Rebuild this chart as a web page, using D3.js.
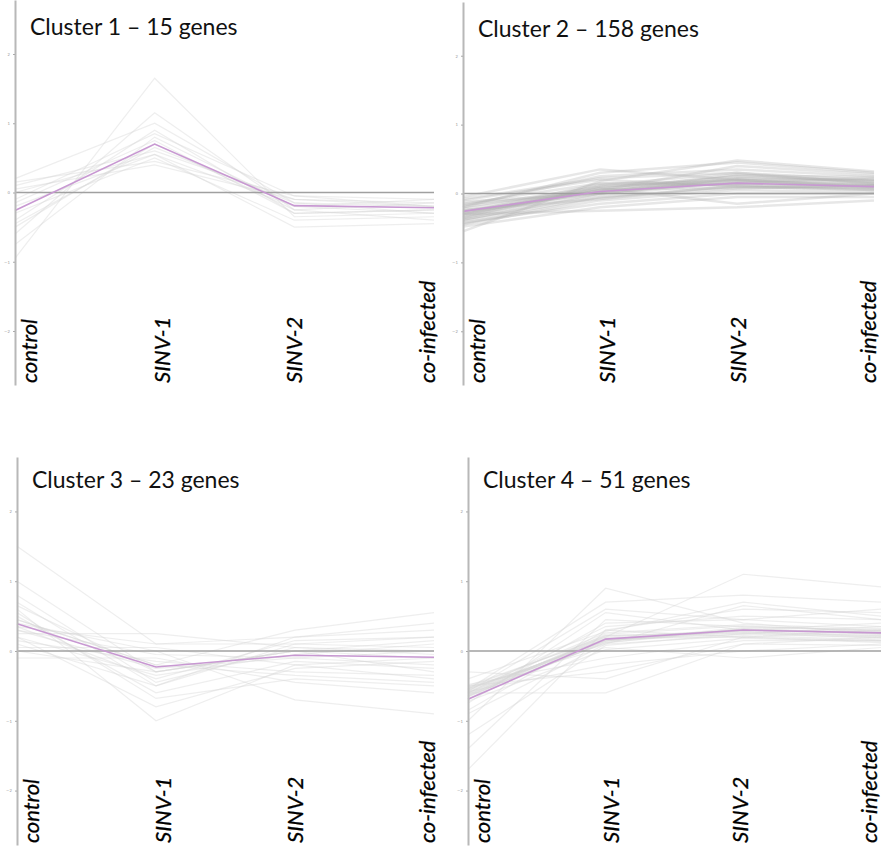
<!DOCTYPE html>
<html>
<head>
<meta charset="utf-8">
<title>Gene clusters</title>
<script src="https://cdn.jsdelivr.net/npm/d3@7"></script>
<style>
  body { margin: 0; background: #fff; }
  .title { font-family: Lato, "Open Sans", sans-serif; font-size: 23px; fill: #111; }
  .xlab { font-family: Lato, "Open Sans", sans-serif; font-style: italic; font-size: 22px; fill: #000; stroke: #000; stroke-width: 0.3px; }
  .yaxis text { font-size: 4px; fill: #999; font-family: "DejaVu Sans", sans-serif; }
  .yaxis path.domain { stroke: #b8b8b8; stroke-width: 2px; }
  .yaxis line { stroke: #aaa; }
</style>
</head>
<body>
<script>
// conditions along the x axis
var conditions = ["control", "SINV-1", "SINV-2", "co-infected"];
var yTicks = [-2, -1, 0, 1, 2];
var titles = ["Cluster 1 \u2013 15 genes", "Cluster 2 \u2013 158 genes", "Cluster 3 \u2013 23 genes", "Cluster 4 \u2013 51 genes"];

// mean profile of each cluster (pink line)
var means = [
  [-0.26, 0.70, -0.19, -0.22],
  [-0.26, 0.03, 0.15, 0.10],
  [0.39, -0.23, -0.06, -0.09],
  [-0.69, 0.17, 0.30, 0.26]
];

// individual gene profiles (grey lines)
var cluster1 = [
  [-0.95, 1.65, -0.35, -0.30], [-0.60, 1.15, -0.25, -0.40], [0.20, 1.00, -0.15, -0.20],
  [-0.40, 0.90, -0.30, -0.25], [0.10, 0.60, -0.10, -0.15], [-0.20, 0.55, -0.50, -0.45],
  [-0.75, 0.80, -0.20, -0.30], [0.15, 0.45, -0.05, -0.10], [-0.30, 0.50, -0.40, -0.35],
  [-0.50, 0.70, -0.25, -0.15], [0.05, 0.40, -0.10, -0.20], [-0.15, 0.75, -0.30, -0.25],
  [-0.45, 0.65, -0.15, -0.30], [0.00, 0.55, -0.20, -0.10], [-0.10, 0.85, -0.05, -0.20]
];
var cluster2 = [
  [-0.30, 0.05, 0.15, 0.10], [-0.20, 0.10, 0.20, 0.15], [-0.40, -0.05, 0.10, 0.05],
  [-0.25, 0.00, 0.18, 0.12], [-0.35, 0.08, 0.25, 0.18], [-0.15, 0.15, 0.12, 0.08],
  [-0.45, -0.10, 0.05, 0.02], [-0.28, 0.02, 0.22, 0.20], [-0.32, 0.12, 0.30, 0.14],
  [-0.10, 0.20, 0.10, 0.05], [-0.38, -0.02, 0.16, 0.22], [-0.22, 0.06, 0.08, 0.10],
  [-0.18, 0.25, 0.35, 0.25], [-0.42, -0.15, 0.00, 0.00], [-0.26, 0.04, 0.28, 0.16],
  [-0.34, 0.10, 0.14, 0.12], [-0.12, 0.00, 0.22, 0.18], [-0.48, -0.20, -0.05, -0.05],
  [-0.20, 0.30, 0.45, 0.30], [-0.30, -0.25, -0.20, -0.10], [-0.05, 0.35, 0.20, 0.08],
  [-0.36, 0.05, 0.40, 0.28], [-0.24, -0.08, 0.12, 0.06], [-0.28, 0.14, 0.18, 0.14],
  [-0.16, 0.02, 0.26, 0.24], [-0.44, -0.06, 0.08, 0.12], [-0.08, 0.22, 0.30, 0.20],
  [-0.30, 0.08, -0.15, 0.00], [-0.55, 0.18, 0.48, 0.32], [-0.38, 0.00, 0.20, 0.10]
];
var cluster3 = [
  [1.50, 0.10, 0.10, 0.20], [1.00, -0.30, 0.00, -0.30], [0.70, -0.50, 0.20, 0.40],
  [0.60, -1.00, -0.20, -0.10], [0.55, -0.68, -0.40, -0.50], [0.45, -0.20, 0.30, 0.55],
  [0.40, 0.00, -0.70, -0.90], [0.35, -0.40, 0.15, 0.20], [0.30, -0.25, -0.10, -0.20],
  [0.25, 0.25, 0.05, 0.00], [0.20, -0.35, -0.05, 0.10], [0.15, -0.15, -0.30, -0.35],
  [0.10, -0.50, 0.10, 0.05], [0.50, -0.60, -0.15, -0.25], [0.05, 0.05, -0.20, -0.40],
  [0.65, -0.30, 0.00, 0.15], [-0.10, -0.10, -0.45, -0.60], [0.80, -0.45, 0.05, -0.05],
  [0.20, -0.80, -0.25, -0.15], [0.35, 0.10, 0.20, 0.30], [0.45, -0.20, -0.35, -0.45],
  [0.00, -0.30, 0.00, -0.10], [0.30, -0.05, -0.10, 0.00]
];
var cluster4 = [
  [-1.70, 0.30, 0.20, 0.15], [-1.40, 0.45, 0.35, 0.30], [-1.00, 0.90, 0.40, 0.25],
  [-0.90, 0.10, 0.65, 0.45], [-0.30, -0.40, 0.20, 0.30], [-0.55, 0.70, 0.80, 0.70],
  [-0.60, -0.60, 0.10, 0.20], [-0.50, 0.20, 1.10, 0.92], [-0.65, 0.15, 0.30, 0.25],
  [-0.58, 0.18, 0.28, 0.22], [-0.62, 0.12, 0.32, 0.26], [-0.52, 0.22, 0.26, 0.18],
  [-0.68, 0.14, 0.34, 0.30], [-0.56, 0.16, 0.24, 0.20], [-0.60, 0.20, 0.30, 0.24],
  [-0.54, 0.10, 0.22, 0.16], [-0.64, 0.24, 0.36, 0.28], [-0.58, -0.20, 0.00, 0.10],
  [-0.70, 0.40, 0.45, 0.35], [-0.52, 0.05, -0.10, 0.05], [-0.75, 0.55, 0.30, 0.40],
  [-0.48, -0.10, 0.15, 0.15], [-0.85, 0.30, 0.60, 0.55], [-0.62, 0.18, 0.20, 0.12],
  [-0.56, 0.26, 0.38, 0.32], [-1.20, 0.08, 0.25, 0.35], [-0.60, 0.35, 0.50, 0.45],
  [-0.50, -0.30, 0.10, 0.08], [-0.66, 0.22, 0.28, 0.20], [-0.54, 0.14, 0.32, 0.24],
  [-0.58, 0.60, 0.45, 0.60], [-0.72, 0.02, 0.18, 0.14], [-0.60, 0.16, 0.26, 0.22],
  [-0.40, 0.28, 0.70, 0.50], [-0.64, 0.12, 0.30, 0.28]
];
var genes = [cluster1, cluster2, cluster3, cluster4];

// panel placement on the page; labelRight is where the last rotated label sits
var panels = [
  { left: 15,  right: 434, top: 0,   bottom: 385, labelRight: 435 },
  { left: 463, right: 874, top: 2,   bottom: 385, labelRight: 876 },
  { left: 17,  right: 434, top: 457, bottom: 845, labelRight: 435 },
  { left: 468, right: 881, top: 457, bottom: 845, labelRight: 877 }
];

var svg = d3.select("body").append("svg")
  .attr("width", 882)
  .attr("height", 848);

panels.forEach(function (p, i) {
  var g = svg.append("g");

  var x = d3.scalePoint().domain(conditions).range([p.left, p.right]);
  var y = d3.scaleLinear().domain([-2.78, 2.78]).range([p.bottom, p.top]);
  // label positions sit a little right of the data points
  var xl = d3.scalePoint().domain(conditions).range([p.left + 22, p.labelRight]);

  var line = d3.line()
    .x(function (d, j) { return x(conditions[j]); })
    .y(function (d) { return y(d); });

  //grey gene lines, cluster 2 is much denser
  g.append("g").selectAll("path")
    .data(genes[i])
    .enter().append("path")
    .attr("d", line)
    .attr("fill", "none")
    .attr("stroke", i == 1 ? "#b0b0b0" : "#d4d4d4")
    .attr("stroke-opacity", i == 1 ? 0.3 : 0.4)
    .attr("stroke-width", i == 1 ? 2.5 : 1.2);

  //zero line
  g.append("line")
    .attr("x1", p.left).attr("x2", p.right)
    .attr("y1", y(0)).attr("y2", y(0))
    .attr("stroke", "#a0a0a0")
    .attr("stroke-width", 1.5);

  //mean line
  g.append("path")
    .datum(means[i])
    .attr("d", line)
    .attr("fill", "none")
    .attr("stroke", "#c898d2")
    .attr("stroke-width", 1.6);

  //y axis with tiny tick labels
  g.append("g")
    .attr("class", "yaxis")
    .attr("transform", "translate(" + p.left + ",0)")
    .call(d3.axisLeft(y).tickValues(yTicks).tickSizeInner(2).tickSizeOuter(0).tickPadding(3).tickFormat(d3.format("d")));

  //title
  g.append("text")
    .attr("class", "title")
    .attr("x", p.left + 15)
    .attr("y", p.top + (i < 2 ? 35 : 31))
    .text(titles[i]);

  //rotated condition labels
  g.selectAll("text.xlab")
    .data(conditions)
    .enter().append("text")
    .attr("class", "xlab")
    .attr("transform", function (d) {
      return "translate(" + xl(d) + "," + (p.bottom - 2) + ") rotate(-90)";
    })
    .text(function (d) { return d; });
});
</script>
</body>
</html>
